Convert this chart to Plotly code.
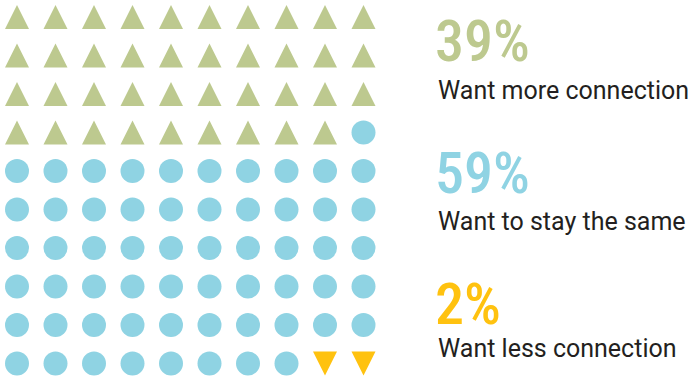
import plotly.graph_objects as go

# ---- data ----
categories = ["Want more connection", "Want to stay the same", "Want less connection"]
percents = [39, 59, 2]
pct_labels = ["39%", "59%", "2%"]
colors = ["#BDC98F", "#8FD3E3", "#FFC20F"]
symbols = ["up", "circle", "down"]
n_cols = 10

W, H = 694, 379
step = 38.5      # px between grid cells
first = 17.0     # px centre of first cell

# grid positions in cell units, filled row by row
cells = []
idx = 0
for cat_i, n in enumerate(percents):
    for _ in range(n):
        cells.append((idx % n_cols, idx // n_cols, cat_i))
        idx += 1

fig = go.Figure()
half_w = 12 / step
half_h = 12 / step
for cat_i, sym in enumerate(symbols):
    pts = [(c, r) for c, r, k in cells if k == cat_i]
    if sym == "circle":
        fig.add_trace(go.Scatter(
            x=[p[0] for p in pts], y=[p[1] for p in pts], mode="markers",
            marker=dict(symbol="circle", size=24, color=colors[cat_i], line=dict(width=0)),
            hoverinfo="skip", showlegend=False))
    else:
        xs, ys = [], []
        for c, r in pts:
            if sym == "up":
                xs += [c - half_w, c + half_w, c, c - half_w, None]
                ys += [r + half_h, r + half_h, r - half_h, r + half_h, None]
            else:
                xs += [c - half_w, c + half_w, c, c - half_w, None]
                ys += [r - half_h, r - half_h, r + half_h, r - half_h, None]
        fig.add_trace(go.Scatter(
            x=xs, y=ys, mode="lines", fill="toself", fillcolor=colors[cat_i],
            line=dict(width=0, color=colors[cat_i]), hoverinfo="skip", showlegend=False))

x0 = -first / step
y0 = -first / step
fig.update_xaxes(range=[x0, x0 + W / step], visible=False, fixedrange=True)
fig.update_yaxes(range=[y0 + H / step, y0], visible=False, fixedrange=True)

pct_centres = [41, 173, 304]
label_centres = [90, 221, 348]
for i in range(3):
    fig.add_annotation(xref="paper", yref="paper", x=433 / W, y=1 - pct_centres[i] / H,
                       xanchor="left", yanchor="middle", showarrow=False,
                       text=pct_labels[i],
                       font=dict(family="Roboto Condensed", size=58, weight=500, color=colors[i]))
    fig.add_annotation(xref="paper", yref="paper", x=436 / W, y=1 - label_centres[i] / H,
                       xanchor="left", yanchor="middle", showarrow=False,
                       text=categories[i],
                       font=dict(family="Roboto", size=25, color="#231F20"))

fig.update_layout(width=W, height=H, margin=dict(l=0, r=0, t=0, b=0),
                  paper_bgcolor="white", plot_bgcolor="white")
fig.write_html("out.html")
